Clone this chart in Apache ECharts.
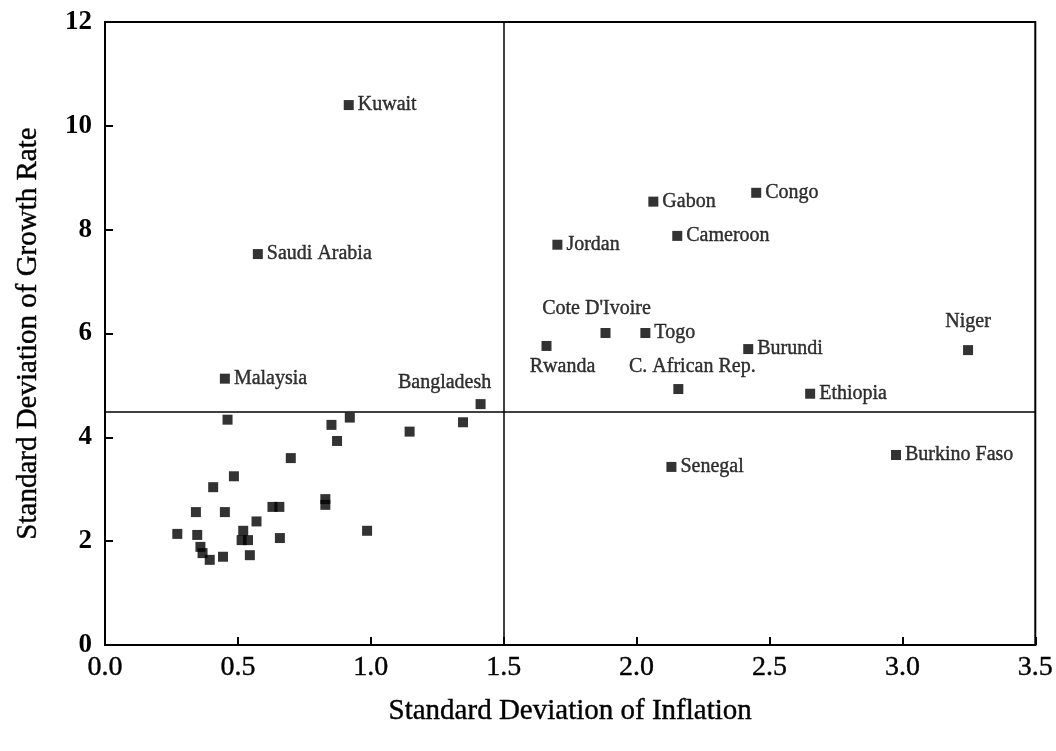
<!DOCTYPE html>
<html>
<head>
<meta charset="utf-8">
<script src="https://cdn.jsdelivr.net/npm/echarts@6/dist/echarts.min.js"></script>
<style>
  html, body { margin: 0; padding: 0; background: #fff; }
  #chart { width: 1056px; height: 751px; }
</style>
</head>
<body>
<div id="chart"></div>
<script>
// Axis ranges and tick spacing
const xTicks = [0, 0.5, 1.0, 1.5, 2.0, 2.5, 3.0, 3.5];
const yTicks = [0, 2, 4, 6, 8, 10, 12];

// Quadrant dividers
const inflationCut = 1.5;
const growthCut = 4.5;

// Named countries: [std dev inflation, std dev growth]
const countryNames = [
  'Kuwait', 'Saudi Arabia', 'Malaysia', 'Bangladesh',
  'Gabon', 'Congo', 'Jordan', 'Cameroon',
  "Cote D'Ivoire", 'Togo', 'Rwanda', 'Burundi',
  'C. African Rep.', 'Ethiopia', 'Niger', 'Senegal', 'Burkino Faso'
];
const countryInflation = [
  0.917, 0.575, 0.451, 1.413,
  2.063, 2.450, 1.702, 2.153,
  1.883, 2.033, 1.661, 2.420,
  2.157, 2.653, 3.247, 2.131, 2.976
];
const countryGrowth = [
  10.40, 7.53, 5.13, 4.64,
  8.54, 8.71, 7.71, 7.88,
  6.01, 6.01, 5.76, 5.70,
  4.93, 4.84, 5.68, 3.43, 3.66
];
const labelSide = [
  'right', 'right', 'right', 'topLeft',
  'right', 'right', 'right', 'right',
  'topShiftLeft', 'right', 'bottom', 'right',
  'topShiftRight', 'right', 'topHigh', 'right', 'right'
];

// Unlabelled countries
const otherInflation = [
  0.461, 0.852, 0.921, 0.873, 0.699, 0.485, 0.407, 0.342, 0.451, 0.630,
  0.656, 0.829, 0.829, 0.570, 0.520, 0.514, 0.538, 0.272, 0.347, 0.359,
  0.367, 0.394, 0.444, 0.545, 0.658, 0.986, 1.146, 1.347
];
const otherGrowth = [
  4.34, 4.24, 4.38, 3.93, 3.60, 3.25, 3.04, 2.56, 2.56, 2.66,
  2.66, 2.81, 2.70, 2.38, 2.20, 2.02, 2.02, 2.14, 2.12, 1.89,
  1.77, 1.64, 1.70, 1.73, 2.06, 2.20, 4.11, 4.29
];

const serif = '"Liberation Serif", "DejaVu Serif", serif';
// a thin outline in the text colour gives the heavier print look
const heavy = { textBorderColor: '#000', textBorderWidth: 0.4 };

function labelFor(side) {
  const base = Object.assign({ show: true, color: '#000', fontFamily: serif, fontSize: 20 }, heavy);
  switch (side) {
    case 'right': return Object.assign(base, { position: 'right', distance: 4 });
    case 'topShiftLeft': return Object.assign(base, { position: 'top', distance: 9, offset: [-9, 0] });
    case 'topShiftRight': return Object.assign(base, { position: 'top', distance: 7, offset: [14, 0] });
    case 'topHigh': return Object.assign(base, { position: 'top', distance: 13 });
    case 'bottom': return Object.assign(base, { position: 'bottom', distance: 6, offset: [16, 0] });
    default: // above and to the left, ending at the marker
      return Object.assign(base, { position: 'top', distance: 6, offset: [-36, 0] });
  }
}

const namedData = countryNames.map((n, i) => ({
  name: n,
  value: [countryInflation[i], countryGrowth[i]],
  label: Object.assign(labelFor(labelSide[i]), { formatter: n })
}));
const otherData = otherInflation.map((x, i) => [x, otherGrowth[i]]);

const chart = echarts.init(document.getElementById('chart'));
chart.setOption({
  backgroundColor: '#fff',
  animation: false,
  grid: {
    left: 105, right: 20, top: 22, bottom: 106,
    show: true, borderColor: '#000', borderWidth: 2
  },
  xAxis: {
    type: 'value',
    min: xTicks[0], max: xTicks[xTicks.length - 1], interval: 0.5,
    name: 'Standard Deviation of Inflation',
    nameLocation: 'middle', nameGap: 52,
    nameTextStyle: Object.assign({ fontFamily: serif, fontSize: 29, color: '#000' }, heavy),
    axisLine: { show: true, lineStyle: { color: '#000', width: 2 } },
    axisTick: { show: true, inside: true, length: 8, lineStyle: { color: '#000', width: 2 } },
    axisLabel: Object.assign({
      fontFamily: serif, fontSize: 28, color: '#000', margin: 9,
      formatter: v => v.toFixed(1)
    }, heavy),
    splitLine: { show: false }
  },
  yAxis: {
    type: 'value',
    min: yTicks[0], max: yTicks[yTicks.length - 1], interval: 2,
    name: 'Standard Deviation of Growth Rate',
    nameLocation: 'middle', nameGap: 62,
    nameTextStyle: Object.assign({ fontFamily: serif, fontSize: 29, color: '#000' }, heavy),
    axisLine: { show: true, lineStyle: { color: '#000', width: 2 } },
    axisTick: { show: true, inside: true, length: 8, lineStyle: { color: '#000', width: 2 } },
    axisLabel: { fontFamily: serif, fontSize: 27, fontWeight: 'bold', color: '#000', margin: 13 },
    splitLine: { show: false }
  },
  series: [
    {
      type: 'scatter',
      symbol: 'rect',
      symbolSize: 10,
      itemStyle: { color: '#000' },
      data: otherData,
      markLine: {
        silent: true,
        symbol: ['none', 'none'],
        label: { show: false },
        lineStyle: { color: '#000', width: 1.5, type: 'solid' },
        data: [{ xAxis: inflationCut }, { yAxis: growthCut }]
      }
    },
    {
      type: 'scatter',
      symbol: 'rect',
      symbolSize: 10,
      itemStyle: { color: '#000' },
      data: namedData
    }
  ]
});
</script>
</body>
</html>
